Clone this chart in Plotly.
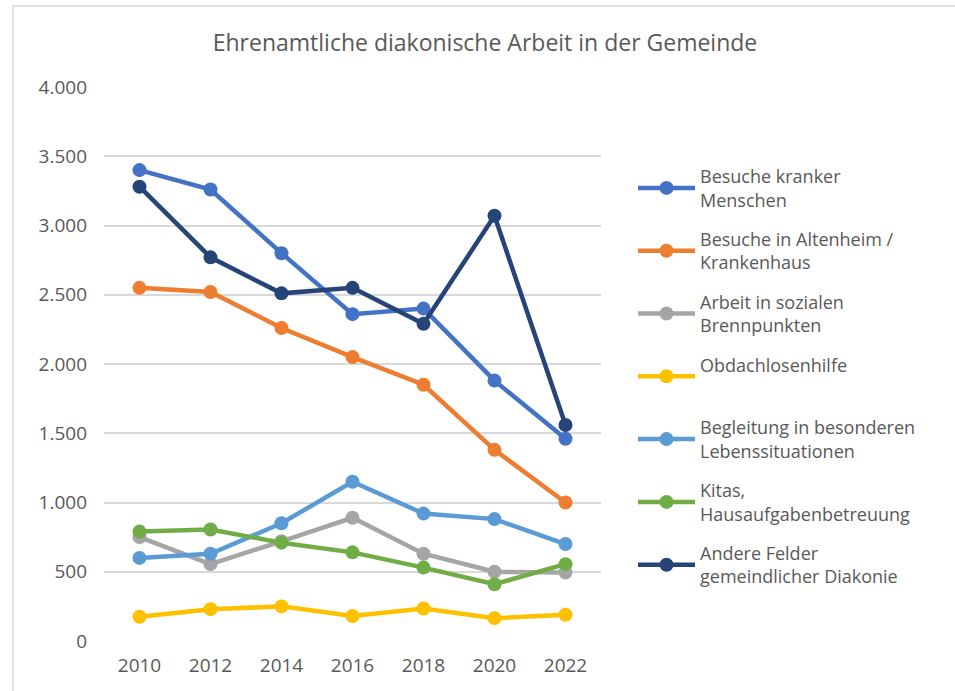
import plotly.graph_objects as go

years = ["2010", "2012", "2014", "2016", "2018", "2020", "2022"]

names = [
    "Besuche kranker<br>Menschen",
    "Besuche in Altenheim /<br>Krankenhaus",
    "Arbeit in sozialen<br>Brennpunkten",
    "Obdachlosenhilfe<br> ",
    "Begleitung in besonderen<br>Lebenssituationen",
    "Kitas,<br>Hausaufgabenbetreuung",
    "Andere Felder<br>gemeindlicher Diakonie",
]

besuche_kranker = [3400, 3260, 2800, 2360, 2400, 1880, 1460]
besuche_altenheim = [2550, 2520, 2260, 2050, 1850, 1380, 1000]
soziale_brennpunkte = [750, 555, 720, 890, 630, 500, 495]
obdachlosenhilfe = [175, 230, 250, 180, 235, 165, 190]
begleitung = [600, 630, 850, 1150, 920, 880, 700]
kitas = [790, 805, 710, 640, 530, 410, 555]
andere_felder = [3280, 2770, 2510, 2550, 2290, 3070, 1560]

series = [besuche_kranker, besuche_altenheim, soziale_brennpunkte,
          obdachlosenhilfe, begleitung, kitas, andere_felder]
colors = ["#4472C4", "#ED7D31", "#A5A5A5", "#FFC000", "#5B9BD5", "#70AD47", "#264478"]

y_ticks = [0, 500, 1000, 1500, 2000, 2500, 3000, 3500, 4000]
y_tick_labels = ["0", "500", "1.000", "1.500", "2.000", "2.500", "3.000", "3.500", "4.000"]

fig = go.Figure()
for i, (name, vals, col) in enumerate(zip(names, series, colors)):
    fig.add_trace(go.Scatter(
        x=years, y=vals, name=name, mode="lines+markers",
        line=dict(color=col, width=4.5),
        marker=dict(color=col, size=14),
        legendgroup=f"g{i}",
    ))

W, H = 955, 691
ml, mr, mt, mb = 104, 354, 87, 50
pw, ph = W - ml - mr, H - mt - mb

def px_x(p):
    return (p - ml) / pw

def px_y(p):
    return (H - mb - p) / ph

fig.update_layout(
    width=W, height=H,
    margin=dict(l=ml, r=mr, t=mt, b=mb, pad=0),
    paper_bgcolor="white", plot_bgcolor="white",
    font=dict(family="Open Sans", color="#595959"),
    title=dict(text="Ehrenamtliche diakonische Arbeit in der Gemeinde",
               x=485 / W, xref="container",
               xanchor="center", y=1 - 43 / H, yanchor="middle",
               font=dict(size=23, color="#595959", family="Open Sans")),
    xaxis=dict(type="category", showgrid=False, showline=False, zeroline=False,
               ticks="", tickfont=dict(size=19, color="#595959"),
               range=[-0.5, 6.5], ticklabelstandoff=11),
    yaxis=dict(range=[0, 4000], tickvals=y_ticks, ticktext=y_tick_labels,
               showgrid=True, gridcolor="#D9D9D9", gridwidth=1.5,
               zeroline=False, showline=False, ticks="",
               tickfont=dict(size=19, color="#595959"), ticklabelstandoff=16),
    legend=dict(x=px_x(633), y=px_y(158), xanchor="left", yanchor="top",
                font=dict(size=18, color="#595959"), tracegroupgap=13,
                itemwidth=57, bgcolor="rgba(0,0,0,0)"),
    shapes=[dict(type="rect", xref="paper", yref="paper",
                 x0=px_x(13), x1=px_x(970), y0=px_y(700), y1=px_y(6),
                 line=dict(color="#D9D9D9", width=1.5), fillcolor="rgba(0,0,0,0)",
                 layer="below")],
)

fig.write_html("out.html", config={"displayModeBar": False},
               post_script="document.body.style.margin='0';")
